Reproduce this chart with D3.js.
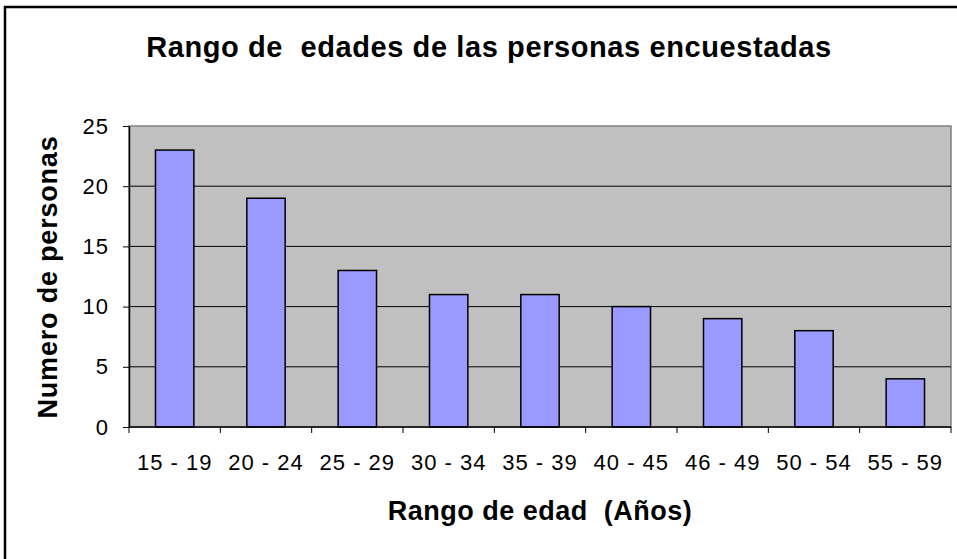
<!DOCTYPE html>
<html lang="es">
<head>
<meta charset="UTF-8">
<title>Rango de edades</title>
<style>
  body { margin: 0; background: #fff; }
  svg text { font-family: "Liberation Sans", Arial, sans-serif; fill: #000; white-space: pre; }
</style>
</head>
<body>
<div id="chart"></div>
<script src="https://d3js.org/d3.v7.min.js"></script>
<script>
// datos
const categorias = ["15 - 19", "20 - 24", "25 - 29", "30 - 34", "35 - 39", "40 - 45", "46 - 49", "50 - 54", "55 - 59"];
const personas = [23, 19, 13, 11, 11, 10, 9, 8, 4];
const ticksY = [0, 5, 10, 15, 20, 25];

const W = 957, H = 559;
const plot = { left: 129, right: 951, top: 126, bottom: 427 };

const svg = d3.select("#chart").append("svg")
  .attr("width", W).attr("height", H);

// marco exterior
svg.append("rect")
  .attr("x", 5).attr("y", 7)
  .attr("width", W + 10).attr("height", H + 10)
  .attr("fill", "#fff").attr("stroke", "#000").attr("stroke-width", 2.5);

const x = d3.scaleBand()
  .domain(categorias)
  .range([plot.left, plot.right])
  .paddingInner(0.58).paddingOuter(0.29);

const y = d3.scaleLinear()
  .domain([0, 25])
  .range([plot.bottom, plot.top]);

// fondo del area de trazado
svg.append("rect")
  .attr("x", plot.left).attr("y", plot.top)
  .attr("width", plot.right - plot.left).attr("height", plot.bottom - plot.top)
  .attr("fill", "#c0c0c0").attr("stroke", "#808080").attr("stroke-width", 1.5);

// lineas de cuadricula
svg.append("g").selectAll("line")
  .data(ticksY.filter(d => d > 0 && d < 25))
  .join("line")
  .attr("x1", plot.left).attr("x2", plot.right)
  .attr("y1", d => y(d)).attr("y2", d => y(d))
  .attr("stroke", "#000").attr("stroke-width", 1);

// barras
svg.append("g").selectAll("rect")
  .data(personas)
  .join("rect")
  .attr("x", (d, i) => x(categorias[i]))
  .attr("y", d => y(d))
  .attr("width", x.bandwidth())
  .attr("height", d => y(0) - y(d))
  .attr("fill", "#9999ff")
  .attr("stroke", "#000").attr("stroke-width", 1.5);

// eje Y
const yAxis = svg.append("g")
  .attr("transform", `translate(${plot.left},0)`)
  .call(d3.axisLeft(y).tickValues(ticksY).tickSize(6).tickSizeOuter(0).tickPadding(14));
yAxis.select(".domain").attr("stroke", "#000").attr("stroke-width", 1.5);
yAxis.selectAll("line").attr("stroke", "#000");
yAxis.selectAll("text").style("font-size", "22px").style("letter-spacing", "1px");

// eje X: marcas en los limites de las categorias
const bordes = d3.range(categorias.length + 1).map(i => plot.left + i * x.step());
const xAxis = svg.append("g")
  .attr("transform", `translate(0,${plot.bottom})`);
xAxis.append("line")
  .attr("x1", plot.left).attr("x2", plot.right)
  .attr("stroke", "#000").attr("stroke-width", 1.5);
xAxis.selectAll("line.tick")
  .data(bordes)
  .join("line").attr("class", "tick")
  .attr("x1", d => d).attr("x2", d => d)
  .attr("y1", 0).attr("y2", 6)
  .attr("stroke", "#000");
xAxis.selectAll("text")
  .data(categorias)
  .join("text")
  .attr("x", d => x(d) + x.bandwidth() / 2)
  .attr("y", 43)
  .attr("text-anchor", "middle")
  .style("font-size", "22px").style("letter-spacing", "1px")
  .text(d => d);

// titulos
svg.append("text")
  .attr("x", 489).attr("y", 57)
  .attr("text-anchor", "middle")
  .style("font-size", "29px").style("font-weight", "bold").style("letter-spacing", "0.6px")
  .text("Rango de  edades de las personas encuestadas");

svg.append("text")
  .attr("x", 540).attr("y", 520)
  .attr("text-anchor", "middle")
  .style("font-size", "27px").style("font-weight", "bold").style("letter-spacing", "0.5px")
  .text("Rango de edad  (Años)");

svg.append("text")
  .attr("transform", "translate(57,277) rotate(-90)")
  .attr("text-anchor", "middle")
  .style("font-size", "27px").style("font-weight", "bold").style("letter-spacing", "0.8px")
  .text("Numero de personas");
</script>
</body>
</html>
